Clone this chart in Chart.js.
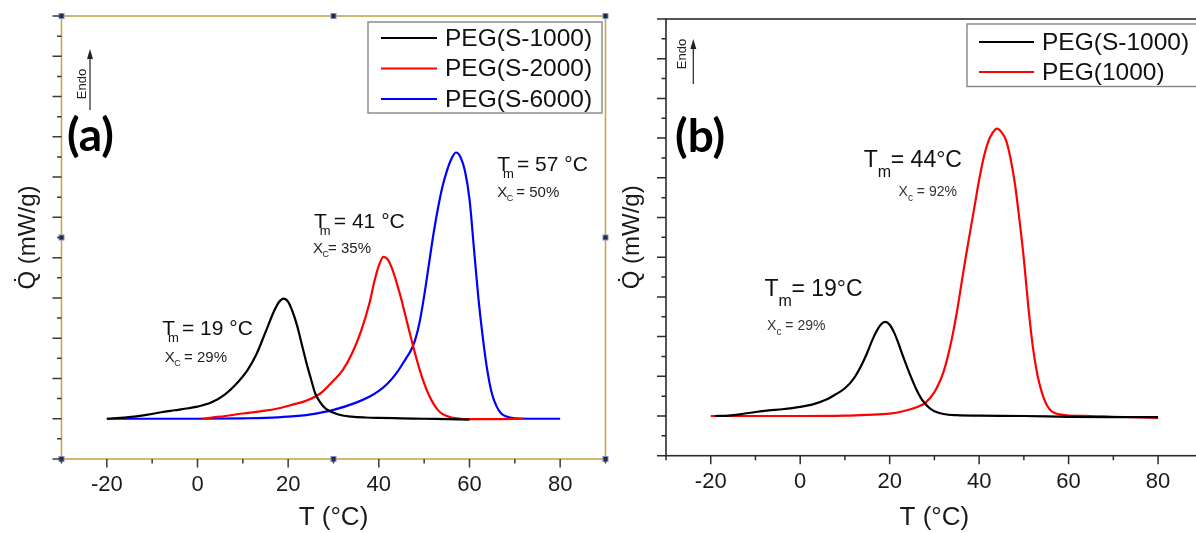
<!DOCTYPE html>
<html>
<head>
<meta charset="utf-8">
<title>DSC PEG</title>
<script src="https://cdn.jsdelivr.net/npm/chart.js@4.4.1/dist/chart.umd.min.js"></script>
<style>
    html, body { margin: 0; padding: 0; background: #fff; overflow: hidden; width: 1196px; height: 533px; }
    .panel { position: absolute; top: 0; height: 533px; }
    #panelA { left: 0; width: 612px; }
    #panelB { left: 612px; width: 600px; }
</style>
</head>
<body>
<div class="panel" id="panelA"><canvas id="chartA"></canvas></div>
<div class="panel" id="panelB"><canvas id="chartB"></canvas></div>
<script>
const FONT = "'Liberation Sans', Arial, sans-serif";

// etiquetas de ejes y series
const ticksX = [-20, 0, 20, 40, 60, 80];
const etiquetasA = ['PEG(S-1000)', 'PEG(S-2000)', 'PEG(S-6000)'];
const etiquetasB = ['PEG(S-1000)', 'PEG(1000)'];

// (a) PEG(S-1000)
const tempA_S1000 = [-20, -17, -14, -11, -8, -5, -2, 0, 3, 6, 9, 11, 13, 15, 17, 18, 19, 20, 21, 22, 23, 24, 25, 26, 27, 28, 29, 30, 32, 34, 37, 40, 45, 50, 55, 60];
const qA_S1000 = [1, 1.02, 1.05, 1.1, 1.16, 1.21, 1.26, 1.3, 1.4, 1.6, 1.92, 2.2, 2.6, 3.15, 3.7, 3.9, 3.98, 3.9, 3.65, 3.3, 2.85, 2.4, 2, 1.62, 1.42, 1.28, 1.2, 1.15, 1.08, 1.05, 1.03, 1.02, 1.01, 1, 0.99, 0.98];
// (a) PEG(S-2000)
const tempA_S2000 = [1, 5, 10, 15, 18, 21, 24, 27, 30, 32, 34, 36, 38, 39, 40, 41, 42, 43, 44, 45, 46, 47, 48, 49, 50, 51, 52, 53, 54, 56, 58, 60, 65, 72];
const qA_S2000 = [1, 1.05, 1.13, 1.2, 1.26, 1.35, 1.45, 1.62, 1.95, 2.2, 2.6, 3.15, 3.9, 4.4, 4.8, 5.02, 4.95, 4.7, 4.35, 3.95, 3.5, 3.05, 2.62, 2.22, 1.88, 1.6, 1.38, 1.22, 1.12, 1.03, 1, 0.99, 0.99, 1];
// (a) PEG(S-6000)
const tempA_S6000 = [-20, -10, 0, 10, 15, 20, 25, 30, 35, 38, 40, 42, 44, 46, 47, 48, 49, 50, 51, 52, 53, 54, 55, 56, 57, 58, 59, 60, 61, 62, 63, 64, 65, 66, 67, 68, 70, 75, 80];
const qA_S6000 = [1, 1, 1, 1.01, 1.02, 1.05, 1.11, 1.22, 1.4, 1.55, 1.69, 1.88, 2.15, 2.5, 2.68, 2.95, 3.4, 4.05, 4.8, 5.55, 6.2, 6.75, 7.15, 7.45, 7.61, 7.5, 7.15, 6.45, 5.2, 3.95, 2.96, 2.15, 1.6, 1.3, 1.13, 1.06, 1.01, 1, 1];

// (b) PEG(S-1000)
const tempB_S1000 = [-19, -16, -13, -10, -7, -4, 0, 3, 6, 8, 10, 12, 14, 15, 16, 17, 18, 19, 20, 21, 22, 23, 24, 25, 26, 27, 28, 29, 30, 32, 35, 40, 50, 60, 70, 80];
const qB_S1000 = [1, 1.01, 1.05, 1.1, 1.14, 1.17, 1.23, 1.3, 1.42, 1.55, 1.7, 1.95, 2.35, 2.6, 2.88, 3.12, 3.3, 3.37, 3.3, 3.1, 2.82, 2.5, 2.2, 1.92, 1.66, 1.45, 1.3, 1.19, 1.12, 1.05, 1.02, 1.01, 1, 0.98, 0.97, 0.97];
// (b) PEG(1000)
const tempB_1000 = [-20, -10, 0, 10, 15, 20, 23, 26, 28, 30, 31, 32, 33, 34, 35, 36, 37, 38, 39, 40, 41, 42, 43, 44, 45, 46, 47, 48, 49, 50, 51, 52, 53, 54, 55, 56, 57, 58, 60, 65, 70, 75, 80];
const qB_1000 = [1, 1, 1, 1.01, 1.03, 1.06, 1.12, 1.22, 1.33, 1.6, 1.82, 2.1, 2.5, 3, 3.6, 4.3, 5, 5.65, 6.3, 6.95, 7.5, 7.9, 8.13, 8.24, 8.15, 7.95, 7.5, 6.85, 5.95, 4.95, 3.75, 2.75, 2.05, 1.6, 1.3, 1.14, 1.07, 1.04, 1.01, 1, 0.98, 0.97, 0.95];

const charts = {};

document.addEventListener('DOMContentLoaded', function() {
    charts.a = crearGrafico('chartA', [
        serie(etiquetasA[0], tempA_S1000, qA_S1000, '#000000'),
        serie(etiquetasA[1], tempA_S2000, qA_S2000, '#ff0000'),
        serie(etiquetasA[2], tempA_S6000, qA_S6000, '#0000ff')
    ], {
        top: 16, right: 6.5, yWidth: 61.5, xHeight: 74, yTitlePad: 16,
        frameColor: '#c6a84e', tickColor: '#3a3a3a', handles: true,
        leyenda: { x: 368, y: 22, w: 234, h: 91, first: 16, step: 30.5, l0: 13, l1: 69, tx: 77, size: 24.5 },
        panel: { text: '(a)', dx: 5.5, dy: 120 },
        endo: { tx: 21, ty: 68, ax: 28.5, a0: 94, a1: 33 },
        notas: [
            { t: -7.8, q: 3.08, main: 'T', sub: 'm', rest: '= 19 °C', size: 21, subSize: 13, drop: 7, sdx: 0.45, gap: 7, color: '#111' },
            { t: -7.2, q: 2.41, main: 'X', sub: 'C', rest: ' = 29%', size: 15, subSize: 9, drop: 4, sdx: 0.95, gap: 5, color: '#222' },
            { t: 25.7, q: 5.74, main: 'T', sub: 'm', rest: '= 41 °C', size: 21, subSize: 13, drop: 7, sdx: 0.45, gap: 7, color: '#111' },
            { t: 25.5, q: 5.12, main: 'X', sub: 'C', rest: '= 35%', size: 15, subSize: 9, drop: 4, sdx: 0.95, gap: 5, color: '#222' },
            { t: 66.1, q: 7.15, main: 'T', sub: 'm', rest: '= 57 °C', size: 21, subSize: 13, drop: 7, sdx: 0.45, gap: 7, color: '#111' },
            { t: 66.1, q: 6.51, main: 'X', sub: 'C', rest: ' = 50%', size: 15, subSize: 9, drop: 4, sdx: 0.95, gap: 5, color: '#222' }
        ]
    });

    charts.b = crearGrafico('chartB', [
        serie(etiquetasB[0], tempB_S1000, qB_S1000, '#000000'),
        serie(etiquetasB[1], tempB_1000, qB_1000, '#ff0000')
    ], {
        top: 19, right: 9.2, yWidth: 54, xHeight: 77.3, yTitlePad: 8,
        frameColor: '#2b2b2b', tickColor: '#2b2b2b', handles: false,
        leyenda: { x: 355, y: 24, w: 250, h: 62.5, first: 18, step: 30, l0: 12, l1: 67, tx: 75, size: 24.5 },
        panel: { text: '(b)', dx: 9, dy: 118 },
        endo: { tx: 16.3, ty: 35, ax: 27.3, a0: 65, a1: 20 },
        notas: [
            { t: 14.2, q: 7.28, main: 'T', sub: 'm', rest: '= 44°C', size: 23, subSize: 16, drop: 10, sdx: 1.0, gap: 13, color: '#111' },
            { t: 22.0, q: 6.53, main: 'X', sub: 'c', rest: ' = 92%', size: 14, subSize: 10, drop: 5, sdx: 1.0, gap: 5, color: '#333' },
            { t: -8.0, q: 4.02, main: 'T', sub: 'm', rest: '= 19°C', size: 23, subSize: 16, drop: 10, sdx: 1.0, gap: 13, color: '#111' },
            { t: -7.4, q: 3.17, main: 'X', sub: 'c', rest: ' = 29%', size: 14, subSize: 10, drop: 5, sdx: 1.0, gap: 5, color: '#333' }
        ]
    });
});

function serie(label, temps, valores, color) {
    return {
        label: label,
        data: temps.map((t, i) => ({ x: t, y: valores[i] })),
        borderColor: color,
        backgroundColor: color,
        borderWidth: 2.2,
        showLine: true,
        pointRadius: 0,
        cubicInterpolationMode: 'monotone'
    };
}

const decorPlugin = {
    id: 'decor',
    afterDatasetsDraw(chart, args, opts) {
        dibujarMarco(chart, opts);
        dibujarTicks(chart, opts);
        dibujarLeyenda(chart, opts.leyenda);
        dibujarNotas(chart, opts.notas);
        dibujarEndo(chart, opts.endo);
        dibujarPanel(chart, opts.panel);
    }
};

function dibujarMarco(chart, opts) {
    const { ctx, chartArea: a } = chart;
    ctx.save();
    ctx.strokeStyle = opts.frameColor;
    ctx.lineWidth = 1.6;
    ctx.strokeRect(a.left, a.top, a.right - a.left, a.bottom - a.top);
    if (opts.handles) {
        const mx = (a.left + a.right) / 2, my = (a.top + a.bottom) / 2;
        const pts = [[a.left, a.top], [mx, a.top], [a.right, a.top], [a.left, my], [a.right, my], [a.left, a.bottom], [mx, a.bottom], [a.right, a.bottom]];
        ctx.fillStyle = '#1d2847';
        ctx.strokeStyle = '#7d8fc8';
        ctx.lineWidth = 1;
        pts.forEach(p => {
            ctx.fillRect(p[0] - 2.5, p[1] - 2.5, 5, 5);
            ctx.strokeRect(p[0] - 2.5, p[1] - 2.5, 5, 5);
        });
    }
    ctx.restore();
}

function dibujarTicks(chart, opts) {
    const { ctx, chartArea: a, scales } = chart;
    ctx.save();
    ctx.strokeStyle = opts.tickColor;
    ctx.lineWidth = 1.5;
    ctx.beginPath();
    scales.x.ticks.forEach(t => {
        if (t.value % 10 !== 0) return;
        const px = scales.x.getPixelForValue(t.value);
        const len = t.value % 20 === 0 ? 8.5 : 4.5;
        ctx.moveTo(px, a.bottom);
        ctx.lineTo(px, a.bottom + len);
    });
    scales.y.ticks.forEach(t => {
        const py = scales.y.getPixelForValue(t.value);
        const len = Number.isInteger(t.value) ? 9 : 4.5;
        ctx.moveTo(a.left, py);
        ctx.lineTo(a.left - len, py);
    });
    ctx.stroke();
    ctx.restore();
}

function dibujarLeyenda(chart, ley) {
    const ctx = chart.ctx;
    ctx.save();
    ctx.strokeStyle = '#858585';
    ctx.lineWidth = 1.4;
    ctx.strokeRect(ley.x, ley.y, ley.w, ley.h);
    chart.data.datasets.forEach((ds, i) => {
        const cy = ley.y + ley.first + i * ley.step;
        ctx.strokeStyle = ds.borderColor;
        ctx.lineWidth = 2.2;
        ctx.beginPath();
        ctx.moveTo(ley.x + ley.l0, cy);
        ctx.lineTo(ley.x + ley.l1, cy);
        ctx.stroke();
        ctx.fillStyle = '#111';
        ctx.font = `${ley.size}px ${FONT}`;
        ctx.textBaseline = 'middle';
        ctx.textAlign = 'left';
        ctx.fillText(ds.label, ley.x + ley.tx, cy + 1);
    });
    ctx.restore();
}

function dibujarNotas(chart, notas) {
    const { ctx, scales: { x, y } } = chart;
    ctx.save();
    ctx.textBaseline = 'alphabetic';
    ctx.textAlign = 'left';
    notas.forEach(n => {
        const px = x.getPixelForValue(n.t);
        const py = y.getPixelForValue(n.q);
        ctx.fillStyle = n.color;
        ctx.font = `${n.size}px ${FONT}`;
        ctx.fillText(n.main, px, py);
        const w = ctx.measureText(n.main).width;
        ctx.fillText(n.rest, px + w + n.gap, py);
        ctx.font = `${n.subSize}px ${FONT}`;
        ctx.fillText(n.sub, px + w * n.sdx, py + n.drop);
    });
    ctx.restore();
}

function dibujarEndo(chart, e) {
    const { ctx, chartArea: a } = chart;
    ctx.save();
    ctx.fillStyle = '#222';
    ctx.strokeStyle = '#222';
    ctx.lineWidth = 1.2;
    ctx.beginPath();
    ctx.moveTo(a.left + e.ax, a.top + e.a0);
    ctx.lineTo(a.left + e.ax, a.top + e.a1 + 6);
    ctx.stroke();
    ctx.beginPath();
    ctx.moveTo(a.left + e.ax, a.top + e.a1);
    ctx.lineTo(a.left + e.ax - 3, a.top + e.a1 + 10);
    ctx.lineTo(a.left + e.ax + 3, a.top + e.a1 + 10);
    ctx.closePath();
    ctx.fill();
    ctx.translate(a.left + e.tx, a.top + e.ty);
    ctx.rotate(-Math.PI / 2);
    ctx.font = `13px ${FONT}`;
    ctx.textAlign = 'center';
    ctx.textBaseline = 'middle';
    ctx.fillText('Endo', 0, 0);
    ctx.restore();
}

function dibujarPanel(chart, p) {
    const { ctx, chartArea: a } = chart;
    ctx.save();
    ctx.fillStyle = '#000';
    ctx.font = `bold 46px Lato, 'Open Sans', sans-serif`;
    ctx.textAlign = 'left';
    ctx.textBaseline = 'middle';
    ctx.fillText(p.text, a.left + p.dx, a.top + p.dy);
    ctx.restore();
}

function crearGrafico(id, datasets, cfg) {
    const ctx = document.getElementById(id).getContext('2d');
    return new Chart(ctx, {
        type: 'scatter',
        data: { datasets: datasets },
        options: {
            responsive: true,
            maintainAspectRatio: false,
            animation: false,
            layout: { padding: { top: cfg.top, right: cfg.right, left: 0, bottom: 0 } },
            plugins: {
                legend: { display: false },
                tooltip: { enabled: false },
                decor: cfg
            },
            scales: {
                x: {
                    type: 'linear',
                    min: -30,
                    max: 90,
                    grid: { display: false, drawTicks: false },
                    border: { display: false },
                    ticks: {
                        stepSize: 10,
                        autoSkip: false,
                        maxRotation: 0,
                        padding: 13,
                        color: '#1a1a1a',
                        font: { family: FONT, size: 22 },
                        callback: v => ticksX.includes(v) ? String(v) : ''
                    },
                    title: {
                        display: true,
                        text: 'T (°C)',
                        color: '#1a1a1a',
                        font: { family: FONT, size: 26, lineHeight: 1 },
                        padding: { top: 0, bottom: 2 }
                    },
                    afterFit: s => {
                        s.height = cfg.xHeight;
                        s.paddingLeft = 0;
                        s.paddingRight = 0;
                    }
                },
                y: {
                    type: 'linear',
                    min: 0,
                    max: 11,
                    grid: { display: false, drawTicks: false },
                    border: { display: false },
                    ticks: { stepSize: 0.5, display: false },
                    title: {
                        display: true,
                        text: 'Q\u0307 (mW/g)',
                        color: '#1a1a1a',
                        font: { family: FONT, size: 24, lineHeight: 1 },
                        padding: { top: cfg.yTitlePad, bottom: 0 }
                    },
                    afterFit: s => { s.width = cfg.yWidth; }
                }
            }
        },
        plugins: [decorPlugin]
    });
}
</script>
</body>
</html>
